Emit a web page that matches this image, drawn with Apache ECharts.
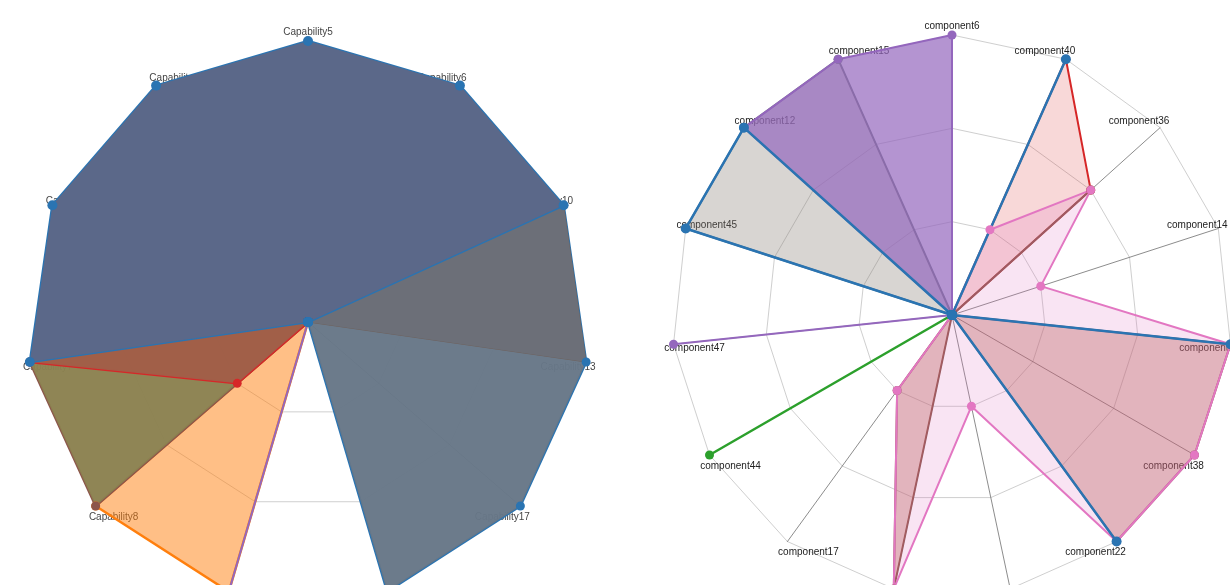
<!DOCTYPE html>
<html><head><meta charset="utf-8">
<script src="https://cdn.jsdelivr.net/npm/echarts@6/dist/echarts.min.js"></script>
<style>html,body{margin:0;padding:0;background:#fff;overflow:hidden}#c{width:1230px;height:585px}</style>
</head><body><div id="c"></div>
<script>
// ---------- DATA ----------
// Indicators in ECharts order (first at top, then counter-clockwise)
const leftIndicators = ['Capability5','Capability4','Capability3','Capability7','Capability8','Capability9','Capability2','Capability17','Capability13','Capability10','Capability6'];
const leftMax = 3;
const leftOrange = [0,0,0,0,3,3,0,0,0,0,0];
const leftBrown  = [0,0,0,3,3,0,0,0,0,0,0];
const leftRed    = [0,0,0,3,1,0,0,0,0,0,0];
const leftPurple = [0,0,0,0,0,3,0,0,0,0,0];
const leftSlate  = [0,0,0,0,0,0,3,3,3,3,0];
const leftGray   = [0,0,0,0,0,0,0,0,3,3,0];
const leftBlue   = [3,3,3,3,0,0,0,0,0,3,3];

const rightIndicators = ['component6','component15','component12','component45','component47','component44','component17','component33','component29','component22','component38','component19','component14','component36','component40'];
const rightMax = 3;
const rightGray   = [0,3,3,3,0,0,0,0,0,0,0,0,0,0,0];
const rightPurple = [3,3,3,0,3,0,0,0,0,0,0,0,0,0,0];
const rightGreen  = [0,0,0,0,0,3,0,0,0,0,0,0,0,0,0];
const rightRed    = [0,0,0,0,0,0,0,0,0,0,0,0,0,2,3];
const rightBrown  = [0,0,0,0,0,0,1,3,0,3,3,3,0,2,0];
const rightPink   = [0,0,0,0,0,0,1,3,1,3,3,3,1,2,1];
const rightBlue   = [0,0,3,3,0,0,0,0,0,3,0,3,0,0,3];

// ---------- STYLE / LAYOUT ----------
const FONT = '"Liberation Sans", Arial, sans-serif';
function makeAxisName(list, color, shift) {
  const rich = {};
  const n = list.length;
  list.forEach((name, i) => {
    const th = i * 2 * Math.PI / n;         // counter-clockwise from top
    const s = -Math.sin(th);                // screen x direction (+ = right)
    const c = Math.cos(th);                 // + = up
    let dx = 0, dy;
    if (Math.abs(s) > 0.15) dx = s > 0 ? -shift : shift;
    if (c >= 0) dy = -9 * c; else dy = Math.min(11, 4 + 14 * (-c - 0.1) / 0.4);
    const pad = [dy > 0 ? 2 * dy : 0, dx < 0 ? -2 * dx : 0, dy < 0 ? -2 * dy : 0, dx > 0 ? 2 * dx : 0];
    rich['p' + i] = {padding: pad, fontSize: 10, color: color, fontFamily: FONT};
  });
  return {
    color: color, fontSize: 10, fontFamily: FONT, align: 'center', verticalAlign: 'middle',
    formatter: (name) => '{p' + list.indexOf(name) + '|' + name + '}',
    rich: rich
  };
}
function radarCfg(center, radius, list, max, color, shift) {
  return {
    z: 0,
    center: center, radius: radius, startAngle: 90, shape: 'polygon', splitNumber: 3,
    nameGap: 0,
    indicator: list.map(n => ({name: n, min: 0, max: max})),
    axisName: makeAxisName(list, color, shift),
    splitLine: {lineStyle: {color: '#cfcfcf', width: 1}},
    splitArea: {show: false},
    axisLine: {lineStyle: {color: '#5a5a5a', width: 0.7}},
    axisTick: {show: false}, axisLabel: {show: false}
  };
}
function ser(radarIndex, name, values, line, lineW, area, areaOp, sym, symSize) {
  return {
    type: 'radar', radarIndex: radarIndex, name: name, silent: true, z: 10,
    symbol: sym === false ? 'none' : 'circle', symbolSize: symSize || 9,
    lineStyle: {color: line, width: lineW, opacity: 1},
    itemStyle: {color: sym || line},
    areaStyle: area ? {color: area, opacity: areaOp} : {opacity: 0},
    emphasis: {disabled: true},
    data: [{value: values, name: name}]
  };
}

const chart = echarts.init(document.getElementById('c'), null, {renderer: 'canvas'});
chart.setOption({
  animation: false,
  backgroundColor: '#fff',
  radar: [
    radarCfg([308, 322], 281, leftIndicators, leftMax, '#444', 18),
    radarCfg([952, 315], 280, rightIndicators, rightMax, '#222', 21)
  ],
  series: [
    ser(0, 'orange', leftOrange, '#ff7f0e', 2.5, '#ff7f0e', 0.5),
    ser(0, 'brown',  leftBrown,  '#8c564b', 2.5, '#8b8150', 0.97),
    ser(0, 'red',    leftRed,    '#d62728', 2.5, '#a15e48', 0.97),
    ser(0, 'purple', leftPurple, '#9467bd', 2, null, 0),
    ser(0, 'slate',  leftSlate,  '#2a74b2', 2.5, '#677787', 0.97),
    ser(0, 'gray',   leftGray,   '#6f6360', 1, '#6c6f77', 0.98, false),
    ser(0, 'blue',   leftBlue,   '#2a74b2', 2.5, '#5b6889', 1, null, 10),

    ser(1, 'gray',   rightGray,   '#6f7a7a', 2, '#857d72', 0.32),
    ser(1, 'purple', rightPurple, '#9467bd', 2, '#9467bd', 0.7),
    ser(1, 'green',  rightGreen,  '#2ca02c', 2.5, null, 0),
    ser(1, 'red',    rightRed,    '#d62728', 2, '#d62728', 0.18),
    ser(1, 'brown',  rightBrown,  '#8c564b', 2, '#af523f', 0.35),
    ser(1, 'pink',   rightPink,   '#e377c2', 2, '#e377c2', 0.2),
    ser(1, 'blue',   rightBlue,   '#2a74b2', 2.5, null, 0, null, 10)
  ]
});
</script>
</body></html>
